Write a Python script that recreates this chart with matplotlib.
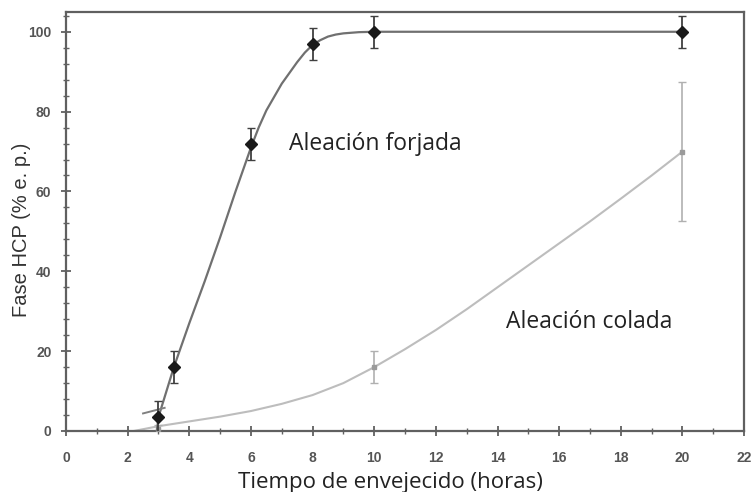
import matplotlib.pyplot as plt
from matplotlib.ticker import MultipleLocator

# measured points (hours, % HCP) with error bars
forj_t = [3, 3.5, 6, 8, 10, 20]
forj_hcp = [3.5, 16, 72, 97, 100, 100]
forj_err = [4, 4, 4, 4, 4, 4]

col_t = [3, 10, 20]
col_hcp = [0.5, 16, 70]
col_err = [1, 4, 17.5]

# fitted curves
forj_fit_t = [2.95, 3, 3.5, 4, 4.5, 5, 5.5, 6, 6.25, 6.5, 7, 7.5, 7.75, 8, 8.25, 8.5, 8.75, 9, 9.5, 10, 20]
forj_fit_hcp = [0, 3.5, 16, 27, 37.5, 48.5, 60, 71, 76, 80.3, 87, 92.4, 94.8, 96.7, 97.9, 98.8, 99.3, 99.6, 99.9, 100, 100]
forj_tail_t = [2.5, 3.2]
forj_tail_hcp = [4.4, 5.8]

col_fit_t = [2.2, 3, 4, 5, 6, 7, 8, 9, 10, 11, 12, 13, 14, 15, 16, 17, 18, 19, 20]
col_fit_hcp = [0, 1.2, 2.4, 3.6, 5, 6.8, 9, 12, 16, 20.5, 25.3, 30.5, 36, 41.5, 47, 52.5, 58.2, 64, 70]

fig = plt.figure(figsize=(7.56, 4.92), dpi=100)
ax = fig.add_axes([0.0873, 0.124, 0.897, 0.852])

ax.plot(col_fit_t, col_fit_hcp, color="#bdbdbd", lw=1.5, zorder=2)
ax.errorbar(col_t, col_hcp, yerr=col_err, fmt="s", ms=2.5, color="#9a9a9a",
            ecolor="#b0b0b0", elinewidth=1.2, capsize=3, zorder=3)

ax.plot(forj_fit_t, forj_fit_hcp, color="#707070", lw=1.6, zorder=4)
ax.plot(forj_tail_t, forj_tail_hcp, color="#808080", lw=1.4, zorder=4)
ax.errorbar(forj_t, forj_hcp, yerr=forj_err, fmt="D", ms=6.5, color="#1a1a1a",
            ecolor="#404040", elinewidth=1.3, capsize=3, zorder=5)

ax.text(7.23, 72, "Aleación forjada", fontsize=16.5, family="Open Sans",
        color="#222222", va="center")
ax.text(14.26, 27.3, "Aleación colada", fontsize=16.5, family="Open Sans",
        color="#222222", va="center")

ax.set_xlim(0, 22)
ax.set_ylim(0, 105)
ax.xaxis.set_major_locator(MultipleLocator(2))
ax.xaxis.set_minor_locator(MultipleLocator(1))
ax.yaxis.set_major_locator(MultipleLocator(20))
ax.yaxis.set_minor_locator(MultipleLocator(4))

for s in ax.spines.values():
    s.set_color("#606060")
    s.set_linewidth(1.6)
ax.tick_params(which="major", direction="inout", length=7, width=1.3,
               color="#606060", labelsize=10, labelcolor="#555555")
ax.tick_params(which="minor", direction="inout", length=4, width=1,
               color="#606060")
ax.tick_params(axis="y", which="both", left=True, right=False, pad=7)
ax.tick_params(axis="x", which="both", top=False, pad=11)
for lab in ax.get_xticklabels() + ax.get_yticklabels():
    lab.set_fontweight("bold")
    lab.set_family("Liberation Sans")

ax.set_ylabel("Fase HCP (% e. p.)", fontsize=14.5, family="Liberation Sans",
              color="#333333", va="center")
ax.yaxis.set_label_coords(-0.065, 0.48)
ax.set_xlabel("Tiempo de envejecido (horas)", fontsize=16, family="Open Sans",
              color="#222222", va="top")
ax.xaxis.set_label_coords(0.479, -0.099)

fig.savefig("out.png", dpi=100)
